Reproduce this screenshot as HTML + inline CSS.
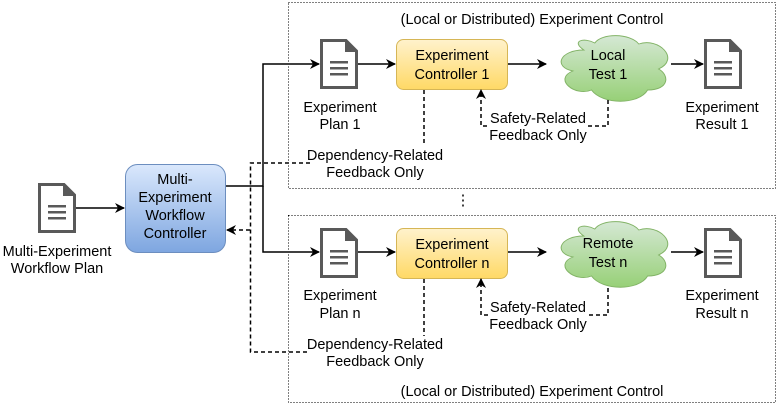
<!DOCTYPE html>
<html><head><meta charset="utf-8"><style>
html,body{margin:0;padding:0;background:#fff;}
svg text{font-family:"Liberation Sans",sans-serif;font-size:14.5px;fill:#000;}
</style></head><body>
<svg width="778" height="408" viewBox="0 0 778 408" xmlns="http://www.w3.org/2000/svg">
<defs>
<linearGradient id="gb" x1="0" y1="0" x2="0" y2="1"><stop offset="0" stop-color="#dae8fc"/><stop offset="1" stop-color="#7ea6e0"/></linearGradient>
<linearGradient id="gy" x1="0" y1="0" x2="0" y2="1"><stop offset="0" stop-color="#fff2cc"/><stop offset="1" stop-color="#ffd966"/></linearGradient>
<linearGradient id="gg" x1="0" y1="0" x2="0" y2="1"><stop offset="0" stop-color="#d5e8d4"/><stop offset="1" stop-color="#97d077"/></linearGradient>
<marker id="ar" markerWidth="10" markerHeight="10" refX="9" refY="5" orient="auto" markerUnits="userSpaceOnUse"><path d="M0,0 L10,5 L0,10 L3,5 Z" fill="#000"/></marker>
<g id="doc"><path d="M1.5,1.5 H26 L36.5,12 V48.5 H1.5 Z" fill="#fff" stroke="#595959" stroke-width="3"/><path d="M25,0 L38,13 H25 Z" fill="#595959"/><rect x="10" y="22" width="18" height="2.5" fill="#595959"/><rect x="10" y="28" width="18" height="2.5" fill="#595959"/><rect x="10" y="34" width="18" height="2.5" fill="#595959"/></g>
<path id="cloud" d="M28,15 C6,15 0,32 18,36 C0,44 20,62 35,55 C45,70 78,70 86,55 C106,55 106,40 96,34 C116,24 96,2 78,9 C70,-2 44,-2 38,8 C28,2 16,6 28,15 Z" fill="url(#gg)" stroke="#82b366" stroke-width="0.9"/>
</defs>
<rect x="288.5" y="2.5" width="487" height="186" fill="none" stroke="#000" stroke-dasharray="1,2"/>
<rect x="288.5" y="215.5" width="487" height="187" fill="none" stroke="#000" stroke-dasharray="1,2"/>
<text x="532" y="24" text-anchor="middle">(Local or Distributed) Experiment Control</text>
<text x="532" y="396" text-anchor="middle">(Local or Distributed) Experiment Control</text>
<text x="463" y="205" text-anchor="middle">⋮</text>

<use href="#doc" x="38" y="183"/>
<text x="57" y="256" text-anchor="middle">Multi-Experiment</text>
<text x="57" y="273" text-anchor="middle">Workflow Plan</text>
<line x1="76" y1="208" x2="124" y2="208" stroke="#000" stroke-width="1.5" marker-end="url(#ar)"/>
<rect x="125.5" y="164.5" width="100" height="88" rx="12" fill="url(#gb)" stroke="#6c8ebf"/>
<text x="175" y="184" text-anchor="middle">Multi-</text>
<text x="175" y="202" text-anchor="middle">Experiment</text>
<text x="175" y="220" text-anchor="middle">Workflow</text>
<text x="175" y="238" text-anchor="middle">Controller</text>

<path d="M226,186 H263 V64 H319" fill="none" stroke="#000" stroke-width="1.5" marker-end="url(#ar)"/>
<path d="M263,186 V252 H319" fill="none" stroke="#000" stroke-width="1.5" marker-end="url(#ar)"/>
<path d="M310,163 H250.5 V352 H310" fill="none" stroke="#000" stroke-width="1.5" stroke-dasharray="4,3"/>
<line x1="250" y1="230" x2="227" y2="230" stroke="#000" stroke-width="1.5" stroke-dasharray="4,3" marker-end="url(#ar)"/>

<!-- top row -->
<use href="#doc" x="320" y="39"/>
<text x="340" y="112" text-anchor="middle">Experiment</text>
<text x="340" y="129" text-anchor="middle">Plan 1</text>
<line x1="358" y1="64" x2="395" y2="64" stroke="#000" stroke-width="1.5" marker-end="url(#ar)"/>
<rect x="396.5" y="39.5" width="111" height="50" rx="7" fill="url(#gy)" stroke="#d6b656"/>
<text x="452" y="60" text-anchor="middle">Experiment</text>
<text x="452" y="79" text-anchor="middle">Controller 1</text>
<line x1="508" y1="64" x2="546" y2="64" stroke="#000" stroke-width="1.5" marker-end="url(#ar)"/>
<use href="#cloud" transform="translate(553,35) scale(1.1,1.0)"/>
<text x="608" y="60" text-anchor="middle">Local</text>
<text x="608" y="79" text-anchor="middle">Test 1</text>
<line x1="671" y1="64" x2="703" y2="64" stroke="#000" stroke-width="1.5" marker-end="url(#ar)"/>
<use href="#doc" x="704" y="39"/>
<text x="722" y="112" text-anchor="middle">Experiment</text>
<text x="722" y="129" text-anchor="middle">Result 1</text>
<line x1="424" y1="90" x2="424" y2="146" stroke="#000" stroke-width="1.5" stroke-dasharray="4,3"/>
<text x="375" y="160" text-anchor="middle">Dependency-Related</text>
<text x="375" y="177" text-anchor="middle">Feedback Only</text>
<path d="M608,100 V126 H481 V90" fill="none" stroke="#000" stroke-width="1.5" stroke-dasharray="4,3" marker-end="url(#ar)"/>
<rect x="490" y="110" width="96" height="30" fill="#fff"/>
<text x="538" y="123" text-anchor="middle">Safety-Related</text>
<text x="538" y="140" text-anchor="middle">Feedback Only</text>

<!-- bottom row -->
<use href="#doc" x="320" y="228"/>
<text x="340" y="300" text-anchor="middle">Experiment</text>
<text x="340" y="318" text-anchor="middle">Plan n</text>
<line x1="358" y1="252" x2="395" y2="252" stroke="#000" stroke-width="1.5" marker-end="url(#ar)"/>
<rect x="396.5" y="228.5" width="111" height="50" rx="7" fill="url(#gy)" stroke="#d6b656"/>
<text x="452" y="249" text-anchor="middle">Experiment</text>
<text x="452" y="268" text-anchor="middle">Controller n</text>
<line x1="508" y1="252" x2="546" y2="252" stroke="#000" stroke-width="1.5" marker-end="url(#ar)"/>
<use href="#cloud" transform="translate(553,221) scale(1.1,1.0)"/>
<text x="608" y="248" text-anchor="middle">Remote</text>
<text x="608" y="267" text-anchor="middle">Test n</text>
<line x1="671" y1="252" x2="703" y2="252" stroke="#000" stroke-width="1.5" marker-end="url(#ar)"/>
<use href="#doc" x="704" y="228"/>
<text x="722" y="300" text-anchor="middle">Experiment</text>
<text x="722" y="318" text-anchor="middle">Result n</text>
<line x1="424" y1="279" x2="424" y2="336" stroke="#000" stroke-width="1.5" stroke-dasharray="4,3"/>
<text x="375" y="349" text-anchor="middle">Dependency-Related</text>
<text x="375" y="366" text-anchor="middle">Feedback Only</text>
<path d="M608,288 V315 H481 V279" fill="none" stroke="#000" stroke-width="1.5" stroke-dasharray="4,3" marker-end="url(#ar)"/>
<rect x="490" y="299" width="96" height="30" fill="#fff"/>
<text x="538" y="312" text-anchor="middle">Safety-Related</text>
<text x="538" y="329" text-anchor="middle">Feedback Only</text>
</svg>
</body></html>
